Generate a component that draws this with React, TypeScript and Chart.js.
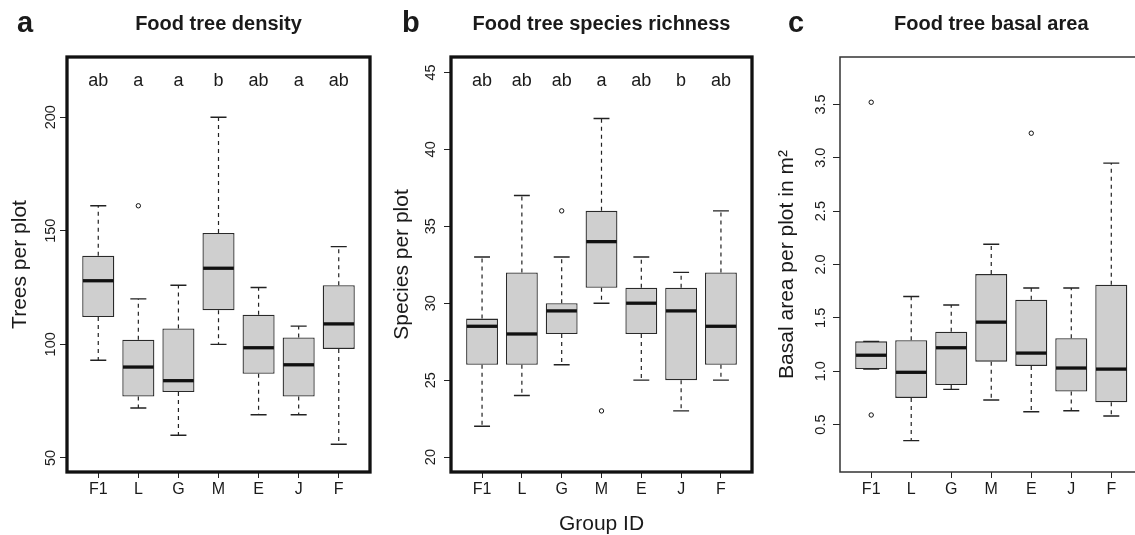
import React, { useEffect, useRef } from "react";
import { Chart, registerables } from "chart.js";

Chart.register(...registerables);

const FONT = "'Liberation Sans', Arial, Helvetica, sans-serif";
const INK = "#1a1a1a";
const H = 535;

const groups = ["F1", "L", "G", "M", "E", "J", "F"];

// a: Food tree density
const densityLow = [93, 72, 60, 100, 69, 69, 56];
const densityQ1 = [112, 77, 79, 115, 87, 77, 98];
const densityMedian = [128, 90, 84, 133.5, 98.5, 91, 109];
const densityQ3 = [139, 102, 107, 149, 113, 103, 126];
const densityHigh = [161, 120, 126, 200, 125, 108, 143];
const densityOutlierGroup = [2];
const densityOutlierValue = [161];
const densityLetters = ["ab", "a", "a", "b", "ab", "a", "ab"];
const densityTicks = [50, 100, 150, 200];

// b: Food tree species richness
const richnessLow = [22, 24, 26, 30, 25, 23, 25];
const richnessQ1 = [26, 26, 28, 31, 28, 25, 26];
const richnessMedian = [28.5, 28, 29.5, 34, 30, 29.5, 28.5];
const richnessQ3 = [29, 32, 30, 36, 31, 31, 32];
const richnessHigh = [33, 37, 33, 42, 33, 32, 36];
const richnessOutlierGroup = [3, 4];
const richnessOutlierValue = [36, 23];
const richnessLetters = ["ab", "ab", "ab", "a", "ab", "b", "ab"];
const richnessTicks = [20, 25, 30, 35, 40, 45];

// c: Food tree basal area
const basalLow = [1.02, 0.35, 0.83, 0.73, 0.62, 0.63, 0.58];
const basalQ1 = [1.02, 0.75, 0.87, 1.09, 1.05, 0.81, 0.71];
const basalMedian = [1.15, 0.99, 1.22, 1.46, 1.17, 1.03, 1.02];
const basalQ3 = [1.28, 1.29, 1.37, 1.91, 1.67, 1.31, 1.81];
const basalHigh = [1.28, 1.7, 1.62, 2.19, 1.78, 1.78, 2.95];
const basalOutlierGroup = [1, 1, 5];
const basalOutlierValue = [3.52, 0.59, 3.23];
const basalTicks = [0.5, 1.0, 1.5, 2.0, 2.5, 3.0, 3.5];

type Spec = {
  left: number;
  w: number;
  area: { l: number; r: number; t: number; b: number };
  ymin: number;
  ymax: number;
  yTicks: number[];
  yDecimals: number;
  yPad: number;
  yTitle: string;
  yTitlePad: number;
  xTitle?: string;
  frameWidth: number;
  frameColor: string;
  title: string;
  tag: string;
  tagX: number;
  letters?: string[];
  letterY?: number;
  low: number[];
  q1: number[];
  median: number[];
  q3: number[];
  high: number[];
  outGroup: number[];
  outValue: number[];
};

const panels: Spec[] = [
  {
    left: 0, w: 380, area: { l: 67, r: 370, t: 57, b: 472 },
    ymin: 43.8, ymax: 226.5, yTicks: densityTicks, yDecimals: 0, yPad: -3.5,
    yTitle: "Trees per plot", yTitlePad: 7.7,
    frameWidth: 3.3, frameColor: "#111",
    title: "Food tree density", tag: "a", tagX: 17,
    letters: densityLetters, letterY: 216,
    low: densityLow, q1: densityQ1, median: densityMedian, q3: densityQ3, high: densityHigh,
    outGroup: densityOutlierGroup, outValue: densityOutlierValue,
  },
  {
    left: 380, w: 380, area: { l: 71, r: 372, t: 57, b: 472 },
    ymin: 19.03, ymax: 46.0, yTicks: richnessTicks, yDecimals: 0, yPad: 4.5,
    yTitle: "Species per plot", yTitlePad: 10,
    xTitle: "Group ID",
    frameWidth: 3.3, frameColor: "#111",
    title: "Food tree species richness", tag: "b", tagX: 22,
    letters: richnessLetters, letterY: 44.47,
    low: richnessLow, q1: richnessQ1, median: richnessMedian, q3: richnessQ3, high: richnessHigh,
    outGroup: richnessOutlierGroup, outValue: richnessOutlierValue,
  },
  {
    left: 760, w: 400, area: { l: 80, r: 382.5, t: 57, b: 472 },
    ymin: 0.056, ymax: 3.944, yTicks: basalTicks, yDecimals: 1, yPad: 2,
    yTitle: "Basal area per plot in m\u00B2", yTitlePad: 14.4,
    frameWidth: 1.5, frameColor: "#333",
    title: "Food tree basal area", tag: "c", tagX: 28,
    low: basalLow, q1: basalQ1, median: basalMedian, q3: basalQ3, high: basalHigh,
    outGroup: basalOutlierGroup, outValue: basalOutlierValue,
  },
];

function boxPlugin(s: Spec) {
  return {
    id: "boxExtras",
    afterDatasetsDraw(chart: any) {
      const { ctx, chartArea: ca } = chart;
      const x = chart.scales.x;
      const y = chart.scales.y;
      ctx.save();
      groups.forEach((_, i) => {
        const c = x.getPixelForValue(i + 1);
        const half = x.getPixelForValue(i + 1.4) - c;
        const st = x.getPixelForValue(i + 1.2) - c;
        const yLow = y.getPixelForValue(s.low[i]);
        const yQ1 = y.getPixelForValue(s.q1[i]);
        const yMed = y.getPixelForValue(s.median[i]);
        const yQ3 = y.getPixelForValue(s.q3[i]);
        const yHigh = y.getPixelForValue(s.high[i]);
        ctx.strokeStyle = "#222";
        ctx.lineWidth = 1.2;
        ctx.setLineDash([4, 4]);
        if (s.high[i] > s.q3[i]) {
          ctx.beginPath();
          ctx.moveTo(c, yQ3);
          ctx.lineTo(c, yHigh);
          ctx.stroke();
        }
        if (s.low[i] < s.q1[i]) {
          ctx.beginPath();
          ctx.moveTo(c, yQ1);
          ctx.lineTo(c, yLow);
          ctx.stroke();
        }
        ctx.setLineDash([]);
        ctx.lineWidth = 1.4;
        ctx.beginPath();
        ctx.moveTo(c - st, yHigh);
        ctx.lineTo(c + st, yHigh);
        ctx.moveTo(c - st, yLow);
        ctx.lineTo(c + st, yLow);
        ctx.stroke();
        ctx.strokeStyle = "#111";
        ctx.lineWidth = 3.3;
        ctx.beginPath();
        ctx.moveTo(c - half + 0.7, yMed);
        ctx.lineTo(c + half - 0.7, yMed);
        ctx.stroke();
      });
      if (s.letters && s.letterY !== undefined) {
        ctx.fillStyle = INK;
        ctx.font = `18px ${FONT}`;
        ctx.textAlign = "center";
        ctx.textBaseline = "middle";
        const ly = y.getPixelForValue(s.letterY);
        s.letters.forEach((t, i) => ctx.fillText(t, x.getPixelForValue(i + 1), ly));
      }
      ctx.lineWidth = s.frameWidth;
      ctx.strokeStyle = s.frameColor;
      ctx.strokeRect(ca.left, ca.top, ca.right - ca.left, ca.bottom - ca.top);
      ctx.fillStyle = INK;
      ctx.textBaseline = "alphabetic";
      ctx.textAlign = "center";
      ctx.font = `bold 20px ${FONT}`;
      ctx.fillText(s.title, (ca.left + ca.right) / 2, 29.5);
      ctx.textAlign = "left";
      ctx.font = `bold 29px ${FONT}`;
      ctx.fillText(s.tag, s.tagX, 31.5);
      ctx.restore();
    },
  };
}

function buildConfig(s: Spec): any {
  const boxes = groups.map((_, i) => ({ x: i + 1, y: [s.q1[i], s.q3[i]] }));
  const outliers = s.outGroup.map((g, k) => ({ x: g, y: s.outValue[k] }));
  return {
    type: "bar",
    data: {
      datasets: [
        {
          type: "bar",
          data: boxes,
          backgroundColor: "#cfcfcf",
          borderColor: "#2a2a2a",
          borderWidth: 1.3,
          borderSkipped: false,
          barPercentage: 0.8,
          categoryPercentage: 1,
          grouped: false,
        },
        {
          type: "scatter",
          data: outliers,
          pointStyle: "circle",
          pointRadius: 2.2,
          pointBorderWidth: 1,
          pointBorderColor: "#111",
          pointBackgroundColor: "rgba(0,0,0,0)",
          borderColor: "#111",
          backgroundColor: "rgba(0,0,0,0)",
          showLine: false,
        },
      ],
    },
    options: {
      responsive: false,
      devicePixelRatio: 1,
      animation: false,
      events: [],
      layout: { padding: { left: 0, top: s.area.t, right: s.w - s.area.r, bottom: 0 } },
      plugins: { legend: { display: false }, tooltip: { enabled: false }, title: { display: false } },
      scales: {
        x: {
          type: "linear",
          min: 0.22,
          max: 7.78,
          offset: false,
          afterBuildTicks: (sc: any) => {
            sc.ticks = groups.map((_, i) => ({ value: i + 1 }));
          },
          afterFit: (sc: any) => {
            sc.height = H - s.area.b;
          },
          ticks: {
            autoSkip: false,
            minRotation: 0,
            maxRotation: 0,
            padding: 2,
            color: INK,
            font: { size: 16, family: FONT },
            callback: (v: number) => groups[Math.round(v) - 1],
          },
          grid: { drawOnChartArea: false, drawTicks: true, tickLength: 6, color: "#222", lineWidth: 1, offset: false },
          border: { display: false },
          title: {
            display: !!s.xTitle,
            text: s.xTitle || "",
            color: INK,
            font: { size: 21, family: FONT },
            padding: { top: 0, bottom: -2 },
          },
        },
        y: {
          type: "linear",
          position: "left",
          min: s.ymin,
          max: s.ymax,
          afterBuildTicks: (sc: any) => {
            sc.ticks = s.yTicks.map((v) => ({ value: v }));
          },
          afterFit: (sc: any) => {
            sc.width = s.area.l;
          },
          ticks: {
            autoSkip: false,
            minRotation: 90,
            maxRotation: 90,
            crossAlign: "center",
            padding: s.yPad,
            color: INK,
            font: { size: 14.5, family: FONT },
            callback: (v: number) => Number(v).toFixed(s.yDecimals),
          },
          grid: { drawOnChartArea: false, drawTicks: true, tickLength: 7, color: "#222", lineWidth: 1 },
          border: { display: false },
          title: {
            display: true,
            text: s.yTitle,
            color: INK,
            font: { size: 21, family: FONT },
            padding: { top: s.yTitlePad, bottom: 0 },
          },
        },
      },
    },
    plugins: [boxPlugin(s)],
  };
}

function Panel({ spec }: { spec: Spec }) {
  const ref = useRef<HTMLCanvasElement>(null);
  useEffect(() => {
    if (!ref.current) return;
    const chart = new Chart(ref.current, buildConfig(spec));
    return () => chart.destroy();
  }, [spec]);
  return (
    <canvas
      ref={ref}
      width={spec.w}
      height={H}
      style={{ position: "absolute", left: spec.left, top: 0, width: spec.w, height: H }}
    />
  );
}

export default function App() {
  Chart.defaults.font.family = FONT;
  return (
    <div
      style={{
        position: "fixed",
        left: 0,
        top: 0,
        width: 1135,
        height: H,
        overflow: "hidden",
        background: "#fff",
      }}
    >
      {panels.map((p) => (
        <Panel key={p.tag} spec={p} />
      ))}
    </div>
  );
}
